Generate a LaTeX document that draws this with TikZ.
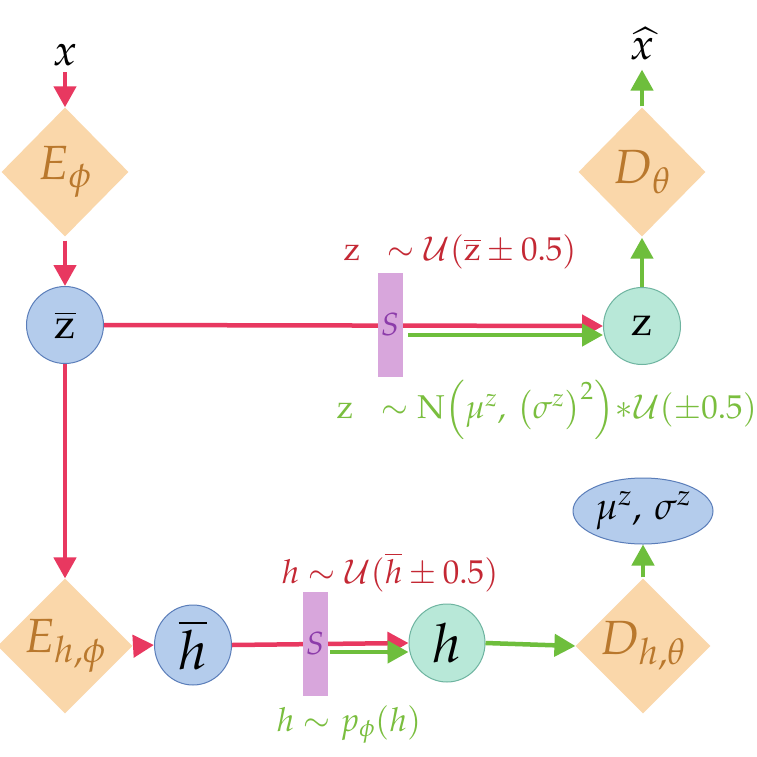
\documentclass[tikz,border=0pt]{standalone}
\usepackage{mathpazo}
\usetikzlibrary{arrows.meta,shapes.geometric,calc}
\definecolor{lred}{RGB}{232,56,96}
\definecolor{lgreen}{RGB}{110,190,60}
\definecolor{tred}{RGB}{196,40,52}
\definecolor{tgreen}{RGB}{122,190,62}
\definecolor{dfill}{RGB}{250,215,170}
\definecolor{dtext}{RGB}{185,120,45}
\definecolor{bfill}{RGB}{180,204,236}
\definecolor{bdraw}{RGB}{90,125,185}
\definecolor{tfill}{RGB}{184,232,216}
\definecolor{tdraw}{RGB}{110,180,160}
\definecolor{sfill}{RGB}{216,166,220}
\definecolor{stext}{RGB}{140,60,170}
\tikzset{
  dia/.style={diamond, fill=dfill, minimum width=127pt, minimum height=129pt, inner sep=0pt, text=dtext, font=\fontsize{48}{52}\selectfont},
  bcirc/.style={circle, fill=bfill, draw=bdraw, line width=1pt, minimum size=77pt, inner sep=0pt, font=\fontsize{42}{46}\selectfont},
  tcirc/.style={circle, fill=tfill, draw=tdraw, line width=1pt, minimum size=77pt, inner sep=0pt, font=\fontsize{42}{46}\selectfont},
  bell/.style={ellipse, fill=bfill, draw=bdraw, line width=1pt, minimum width=77pt, minimum height=80pt, inner sep=0pt, font=\fontsize{54}{58}\selectfont},
  tell/.style={ellipse, fill=tfill, draw=tdraw, line width=1pt, minimum width=76pt, minimum height=78pt, inner sep=0pt, font=\fontsize{54}{58}\selectfont},
  sbar/.style={rectangle, fill=sfill, minimum width=25pt, minimum height=104pt, inner sep=0pt, text=stext, font=\fontsize{32}{36}\selectfont},
  tip/.style={-{Triangle[length=21pt,width=22pt]}},
  redarr/.style={draw=lred, line width=4.5pt, tip},
  greenarr/.style={draw=lgreen, line width=4.5pt, tip},
  lab/.style={inner sep=0pt, font=\fontsize{44}{48}\selectfont},
  rtext/.style={inner sep=0pt, text=tred, font=\fontsize{33}{38}\selectfont},
  gtext/.style={inner sep=0pt, text=tgreen, font=\fontsize{33}{38}\selectfont},
}
\begin{document}
\begin{tikzpicture}[x=1pt,y=-1pt]
\useasboundingbox[fill=white] (0,0) rectangle (757,757);
% top row
\node[lab] (xin) at (65,55) {$x$};
\node[dia] (Ephi) at (65,172) {$E_{\phi}$};
\node[bcirc] (zbar) at (65,325) {$\overline{\mathrm{z}}$};
\node[tcirc] (z) at (642,326) {$\mathrm{z}$};
\node[dia] (Dth) at (642,172) {$D_{\theta}$};
\node[lab] (xhat) at (642,44) {$\widehat{x}$};
% bottom row
\node[dia] (Eh) at (65,646) {$E_{h,\phi}$};
\node[bell] (hbar) at (193,645) {$\overline{h}$};
\node[tell] (h) at (447,643) {$h$};
\node[dia] (Dh) at (643,646) {$D_{h,\theta}$};
\node[ellipse, fill=bfill, draw=bdraw, line width=1pt, minimum width=140pt, minimum height=66pt, inner sep=0pt, font=\fontsize{38}{42}\selectfont] (musig) at (643,511) {$\mu^{z},\,\sigma^{z}$};
% connectors top
\draw[redarr] ($(xin.south)+(0,6)$) -- (Ephi.north);
\draw[redarr] ($(Ephi.south)+(0,4)$) -- (zbar.north);
\draw[redarr] (zbar.east) -- (z.west);
\coordinate (g1) at (408,335);
\draw[greenarr] (g1) -- (z.west |- g1);
\draw[greenarr] (z.north) -- ($(Dth.south)+(0,1)$);
\draw[greenarr] ($(Dth.north)+(0,-1)$) -- ($(xhat.south)+(0,9)$);
\node[sbar] (S1) at (390,325) {$S$};
% connectors bottom
\draw[redarr] (zbar.south) -- (Eh.north);
\draw[redarr] ($(Eh.east)+(4,0)$) -- (hbar.west);
\draw[redarr] (hbar.east) -- (h.west);
\coordinate (g2) at (330,652);
\draw[greenarr] (g2) -- (h.west |- g2);
\draw[greenarr] (h.east) -- (Dh.west);
\draw[greenarr] ($(Dh.north)+(0,-1)$) -- (musig.south);
\node[sbar] (S2) at (315,644) {$S$};
% labels
\node[rtext] (lz) at (460,252) {$\mathrm{z}\;\;\sim\mathcal{U}(\overline{\mathrm{z}}\pm 0.5)$};
\node[gtext, anchor=east] (lzg) at (757,410) {$\mathrm{z}\;\;\sim\mathrm{N}\Big(\mu^{z},\,\big(\sigma^{z}\big)^{2}\Big)\!*\!\mathcal{U}(\pm 0.5)$};
\node[rtext] (lh) at (390,572) {$h\sim\mathcal{U}(\overline{h}\pm 0.5)$};
\node[gtext] (lhg) at (349,725) {$h\sim p_{\phi}(h)$};
\end{tikzpicture}
\end{document}
